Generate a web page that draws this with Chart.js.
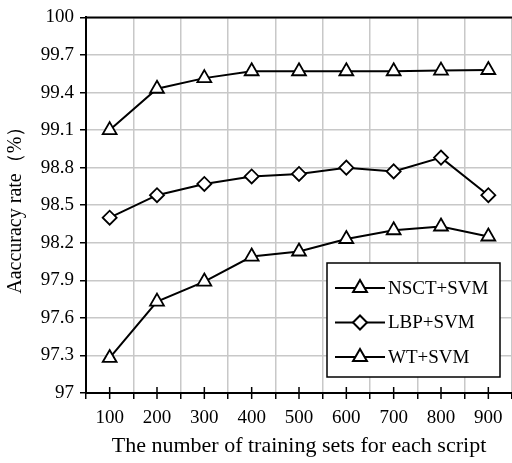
<!DOCTYPE html>
<html>
<head>
<meta charset="utf-8">
<script src="https://cdn.jsdelivr.net/npm/chart.js@4"></script>
<style>
  html, body { margin: 0; padding: 0; background: #fff; }
  #wrap { width: 512px; height: 463px; }
</style>
</head>
<body>
<div id="wrap"><canvas id="grafico"></canvas></div>
<script>
// Dados do gráfico
const categorias = ['100', '200', '300', '400', '500', '600', '700', '800', '900'];
const nsctSvm = [99.10, 99.43, 99.515, 99.57, 99.57, 99.57, 99.57, 99.575, 99.58];
const lbpSvm = [98.40, 98.58, 98.67, 98.73, 98.75, 98.80, 98.77, 98.88, 98.58];
const wtSvm = [97.28, 97.73, 97.89, 98.09, 98.13, 98.23, 98.30, 98.33, 98.25];
const ticksY = [97, 97.3, 97.6, 97.9, 98.2, 98.5, 98.8, 99.1, 99.4, 99.7, 100];

const fonte = '"Liberation Serif", "Times New Roman", serif';

// Legenda desenhada dentro da área do gráfico + linha superior + marcas centrais
const extras = {
  id: 'extras',
  afterDraw(chart) {
    const ctx = chart.ctx;
    const area = chart.chartArea;
    const x = chart.scales.x;
    ctx.save();
    // linha superior
    ctx.strokeStyle = '#000';
    ctx.lineWidth = 2;
    ctx.beginPath();
    ctx.moveTo(area.left, area.top);
    ctx.lineTo(area.right, area.top);
    ctx.stroke();
    // marcas no centro de cada categoria
    ctx.lineWidth = 1.5;
    categorias.forEach((c, i) => {
      const px = x.getPixelForValue(i);
      ctx.beginPath();
      ctx.moveTo(px, area.bottom - 6);
      ctx.lineTo(px, area.bottom + 6);
      ctx.stroke();
    });
    // legenda
    const bx = 327, by = 263, bw = 173, bh = 114;
    ctx.fillStyle = '#fff';
    ctx.fillRect(bx, by, bw, bh);
    ctx.lineWidth = 1.5;
    ctx.strokeRect(bx, by, bw, bh);
    ctx.font = '19px ' + fonte;
    ctx.textBaseline = 'middle';
    chart.data.datasets.forEach((ds, i) => {
      const cy = by + 25 + i * 34.5;
      ctx.strokeStyle = '#000';
      ctx.lineWidth = 2;
      ctx.beginPath();
      ctx.moveTo(bx + 8, cy);
      ctx.lineTo(bx + 58, cy);
      ctx.stroke();
      ctx.fillStyle = '#fff';
      Chart.helpers.drawPoint(ctx, {
        pointStyle: ds.pointStyle,
        radius: ds.pointRadius,
        borderWidth: 1.8,
        rotation: 0
      }, bx + 33, cy);
      ctx.fillStyle = '#000';
      ctx.fillText(ds.label, bx + 61, cy + 1);
    });
    ctx.restore();
  }
};

const ctx = document.getElementById('grafico').getContext('2d');
const estilo = (label, dados, ponto, raio) => ({
  label: label,
  data: dados,
  borderColor: '#000',
  backgroundColor: '#fff',
  borderWidth: 2,
  pointStyle: ponto,
  pointRadius: raio,
  pointBorderWidth: 1.8,
  pointBackgroundColor: '#fff',
  pointBorderColor: '#000',
  tension: 0
});

new Chart(ctx, {
  type: 'line',
  data: {
    labels: categorias,
    datasets: [
      estilo('NSCT+SVM', nsctSvm, 'triangle', 8),
      estilo('LBP+SVM', lbpSvm, 'rectRot', 7),
      estilo('WT+SVM', wtSvm, 'triangle', 8)
    ]
  },
  options: {
    responsive: true,
    maintainAspectRatio: false,
    animation: false,
    layout: { autoPadding: false, padding: { top: 16, right: 0, left: 0, bottom: 0 } },
    plugins: {
      legend: { display: false },
      tooltip: { enabled: false }
    },
    scales: {
      x: {
        offset: true,
        grid: {
          offset: true,
          color: '#c8c8c8',
          lineWidth: 1.5,
          tickColor: '#000',
          tickLength: 6,
          drawOnChartArea: true
        },
        border: { color: '#000', width: 2 },
        ticks: { color: '#000', font: { family: fonte, size: 19 }, padding: 8, maxRotation: 0 },
        title: {
          display: true,
          text: 'The number of training sets for each script',
          color: '#000',
          font: { family: fonte, size: 22 },
          padding: { top: 4 }
        },
        afterFit(s) { s.height = 70; }
      },
      y: {
        min: 97,
        max: 100,
        afterBuildTicks(s) { s.ticks = ticksY.map(v => ({ value: v })); },
        grid: { color: '#c8c8c8', lineWidth: 1.5, tickColor: '#000', tickLength: 6 },
        border: { color: '#000', width: 2 },
        ticks: {
          color: '#000',
          font: { family: fonte, size: 19 },
          padding: 6,
          callback: v => String(Math.round(v * 10) / 10)
        },
        title: {
          display: true,
          text: 'Aaccuracy rate（%）',
          color: '#000',
          font: { family: fonte, size: 20 },
          padding: { bottom: 0 }
        },
        afterFit(s) { s.width = 86; }
      }
    }
  },
  plugins: [extras]
});
</script>
</body>
</html>
